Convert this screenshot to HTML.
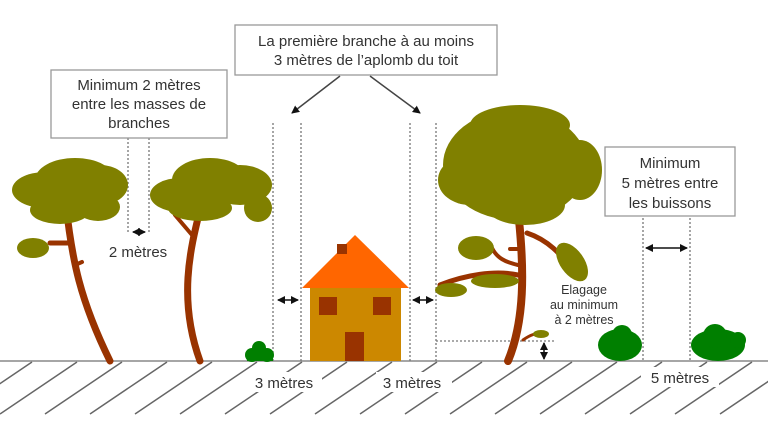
<!DOCTYPE html>
<html><head><meta charset="utf-8"><style>
html,body{margin:0;padding:0;background:#fff;}
svg{display:block;}
text{font-family:"Liberation Sans",sans-serif;fill:#333;}
</style></head><body>
<svg width="768" height="432" viewBox="0 0 768 432" xmlns="http://www.w3.org/2000/svg">
<defs>
<marker id="a" markerWidth="8" markerHeight="8" refX="7" refY="4" orient="auto" markerUnits="userSpaceOnUse"><path d="M0,0 L8,4 L0,8 z" fill="#111"/></marker>
<marker id="b" markerWidth="8" markerHeight="8" refX="1" refY="4" orient="auto" markerUnits="userSpaceOnUse"><path d="M8,0 L0,4 L8,8 z" fill="#111"/></marker>
</defs>
<!-- hatching -->
<g stroke="#666" stroke-width="1.5">
<path d="M-45,414 L32,362 M0,414 L77,362 M45,414 L122,362 M90,414 L167,362 M135,414 L212,362 M180,414 L257,362 M225,414 L302,362 M270,414 L347,362 M315,414 L392,362 M360,414 L437,362 M405,414 L482,362 M450,414 L527,362 M495,414 L572,362 M540,414 L617,362 M585,414 L662,362 M630,414 L707,362 M675,414 L752,362 M720,414 L797,362"/>
</g>
<rect x="246" y="372" width="76" height="20" fill="#fff"/>
<rect x="376" y="372" width="76" height="20" fill="#fff"/>
<rect x="641" y="367" width="78" height="20" fill="#fff"/>
<line x1="0" y1="361" x2="768" y2="361" stroke="#888" stroke-width="1.5"/>
<!-- dotted lines -->
<g stroke="#777" stroke-width="1.3" stroke-dasharray="2,2" fill="none">
<path d="M128,138 V232 M149,138 V232"/>
<path d="M273,123 V361 M301,123 V361 M410,123 V361 M436,123 V361"/>
<path d="M643,218 V361 M690,218 V361"/>
<path d="M436,341 H555"/>
</g>
<!-- arrows -->
<g stroke="#111" stroke-width="1.5">
<line x1="133" y1="232" x2="145" y2="232" marker-end="url(#a)" marker-start="url(#b)"/>
<line x1="278" y1="300" x2="298" y2="300" marker-end="url(#a)" marker-start="url(#b)"/>
<line x1="413" y1="300" x2="433" y2="300" marker-end="url(#a)" marker-start="url(#b)"/>
<line x1="646" y1="248" x2="687" y2="248" marker-end="url(#a)" marker-start="url(#b)"/>
<line x1="544" y1="343" x2="544" y2="359" marker-end="url(#a)" marker-start="url(#b)"/>
<line x1="340" y1="76" x2="292" y2="113" stroke="#444" marker-end="url(#a)"/>
<line x1="370" y1="76" x2="420" y2="113" stroke="#444" marker-end="url(#a)"/>
</g>
<!-- tree1 -->
<g fill="none" stroke="#993300" stroke-linecap="round">
<path d="M66,205 C72,260 80,300 110,361" stroke-width="7"/>
<path d="M50,243 H68" stroke-width="5"/>
<path d="M75,265 L82,262" stroke-width="4"/>
<path d="M200,210 C190,250 178,300 200,361" stroke-width="7"/>
<path d="M192,235 L175,215" stroke-width="4"/>
</g>
<g fill="#808000">
<ellipse cx="33" cy="248" rx="16" ry="10"/>
<ellipse cx="45" cy="190" rx="33" ry="18"/><ellipse cx="75" cy="180" rx="40" ry="22"/><ellipse cx="100" cy="185" rx="28" ry="20"/><ellipse cx="60" cy="210" rx="30" ry="14"/><ellipse cx="98" cy="207" rx="22" ry="14"/>
<ellipse cx="180" cy="195" rx="30" ry="17"/><ellipse cx="210" cy="180" rx="38" ry="22"/><ellipse cx="240" cy="185" rx="32" ry="20"/><ellipse cx="200" cy="208" rx="32" ry="13"/><ellipse cx="258" cy="208" rx="14" ry="14"/>
</g>
<!-- big tree -->
<g fill="none" stroke="#993300" stroke-linecap="round">
<path d="M519,220 C524,270 525,320 508,361" stroke-width="8"/>
<path d="M527,233 C548,240 562,255 570,268" stroke-width="5"/>
<path d="M518,275 C495,270 465,275 440,285" stroke-width="5"/>
<path d="M518,265 C505,262 497,258 492,248" stroke-width="4"/>
<path d="M510,249 H520" stroke-width="4"/>
<path d="M523,340 C530,335 535,333 545,333" stroke-width="3"/>
</g>
<g fill="#808000">
<ellipse cx="515" cy="165" rx="72" ry="55"/><ellipse cx="470" cy="180" rx="32" ry="25"/><ellipse cx="580" cy="170" rx="22" ry="30"/><ellipse cx="520" cy="125" rx="50" ry="20"/><ellipse cx="525" cy="205" rx="40" ry="20"/>
<ellipse cx="476" cy="248" rx="18" ry="12"/>
<ellipse cx="572" cy="262" rx="12" ry="22" transform="rotate(-35 572 262)"/>
<ellipse cx="495" cy="281" rx="24" ry="7"/>
<ellipse cx="451" cy="290" rx="16" ry="7"/>
<ellipse cx="541" cy="334" rx="8" ry="4"/>
</g>
<!-- bushes -->
<g fill="#007f00">
<circle cx="252" cy="355" r="7"/><circle cx="267" cy="355" r="7"/><circle cx="259" cy="348" r="7"/><rect x="247" y="352" width="26" height="9"/>
<ellipse cx="620" cy="345" rx="22" ry="16"/><circle cx="622" cy="335" r="10"/>
<ellipse cx="718" cy="345" rx="27" ry="16"/><circle cx="715" cy="336" r="12"/><circle cx="738" cy="340" r="8"/>
</g>
<!-- house -->
<rect x="310" y="288" width="91" height="73" fill="#cc8800"/>
<polygon points="355,235 302,288 409,288" fill="#ff6600"/>
<rect x="337" y="244" width="10" height="10" fill="#993300"/>
<rect x="319" y="297" width="18" height="18" fill="#993300"/>
<rect x="373" y="297" width="18" height="18" fill="#993300"/>
<rect x="345" y="332" width="19" height="29" fill="#993300"/>
<!-- boxes -->
<g fill="#fff" stroke="#999" stroke-width="1.3">
<rect x="51" y="70" width="176" height="68"/>
<rect x="235" y="25" width="262" height="50"/>
<rect x="605" y="147" width="130" height="69"/>
</g>
<g font-size="15" text-anchor="middle">
<text x="139" y="90">Minimum 2 mètres</text>
<text x="139" y="109">entre les masses de</text>
<text x="139" y="128">branches</text>
<text x="366" y="46">La première branche à au moins</text>
<text x="366" y="65">3 mètres de l’aplomb du toit</text>
<text x="670" y="168">Minimum</text>
<text x="670" y="188">5 mètres entre</text>
<text x="670" y="208">les buissons</text>
<text x="138" y="257">2 mètres</text>
<text x="284" y="388">3 mètres</text>
<text x="412" y="388">3 mètres</text>
<text x="680" y="383">5 mètres</text>
</g>
<g font-size="12.5" text-anchor="middle">
<text x="584" y="294">Elagage</text>
<text x="584" y="309">au minimum</text>
<text x="584" y="324">à 2 mètres</text>
</g>
</svg>
</body></html>
